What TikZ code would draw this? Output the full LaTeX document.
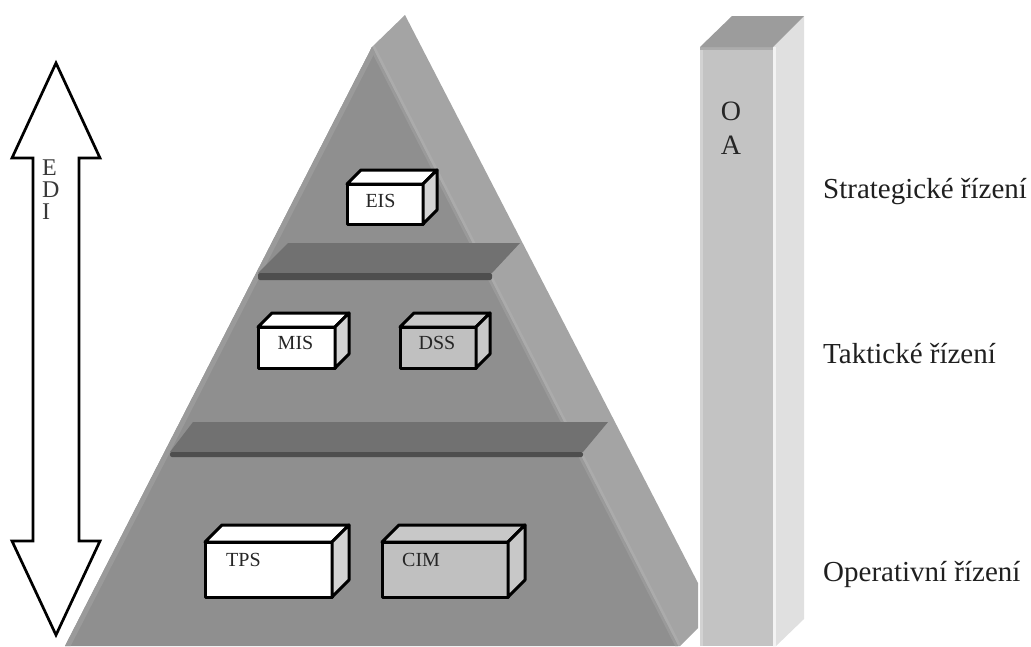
\documentclass[tikz,border=0pt]{standalone}
\usepackage{fontspec}
\setmainfont{Liberation Serif}

\definecolor{pyrfront}{HTML}{8F8F8F}
\definecolor{pyrside}{HTML}{A4A4A4}
\definecolor{pyredge}{HTML}{9A9A9A}
\definecolor{sidehi}{HTML}{ABABAB}
\definecolor{slabtop}{HTML}{717171}
\definecolor{slabfront}{HTML}{4E4E4E}
\definecolor{barfront}{HTML}{C3C3C3}
\definecolor{barside}{HTML}{E0E0E0}
\definecolor{bartop}{HTML}{9C9C9C}
\definecolor{barhi}{HTML}{D2D2D2}
\definecolor{barrim}{HTML}{ACACAC}
\definecolor{boxgrey}{HTML}{C0C0C0}
\definecolor{boxgreytop}{HTML}{C8C8C8}
\definecolor{boxside}{HTML}{D3D3D3}

% cuboid: name, centre x, centre y, width, height, depth, front, top, side fill
\newcommand{\cuboid}[9]{%
  \node[boxface, fill=#7, minimum width=#4pt, minimum height=#5pt] (#1) at (#2,#3) {};
  \filldraw[boxline, fill=#8] (#1.north west) -- ++(#6,-#6)
    -- ([shift={(#6,-#6)}]#1.north east) -- (#1.north east) -- cycle;
  \filldraw[boxline, fill=#9] (#1.north east) -- ++(#6,-#6)
    -- ([shift={(#6,-#6)}]#1.south east) -- (#1.south east) -- cycle;
}

\begin{document}
\begin{tikzpicture}[x=1pt, y=-1pt,
  boxface/.style={draw=black, line width=3pt, line join=round, inner sep=0pt, outer sep=0pt},
  boxline/.style={draw=black, line width=3pt, line join=round},
  boxtext/.style={font=\fontsize{20}{22}\selectfont, text=black!85, inner sep=0pt},
  level/.style={font=\fontsize{29}{34}\selectfont, text=black!88, anchor=base west, inner sep=0pt},
  barletter/.style={font=\fontsize{28}{32}\selectfont, text=black!85, anchor=base, inner sep=0pt},
  arrowletter/.style={font=\fontsize{24}{26}\selectfont, text=black!78, anchor=base west, inner sep=0pt},
  bigarrow/.style={draw=black, fill=white, line width=2.7pt, line join=miter}]

\useasboundingbox (0,0) rectangle (1031,646);

% pyramid corners
\coordinate (apexF) at (372,47);
\coordinate (apexB) at (405,15);
\coordinate (baseL) at (65,646);
\coordinate (baseR) at (678,646);
\coordinate (backR) at (698,583);
\coordinate (backC) at (698,628);
\coordinate (backD) at (680,646);

% side face
\fill[pyrside] (apexF) -- (apexB) -- (backR) -- (backC) -- (backD) -- (baseR) -- cycle;
\begin{scope}
  \clip (apexF) -- (apexB) -- (backR) -- (backC) -- (backD) -- (baseR) -- cycle;
  \draw[sidehi, line width=6pt] (apexF) -- (baseR);
\end{scope}

% front face with lighter bevelled edges
\fill[pyrfront] (apexF) -- (baseL) -- (baseR) -- cycle;
\begin{scope}
  \clip (apexF) -- (baseL) -- (baseR) -- cycle;
  \draw[pyredge, line width=10pt] (apexF) -- (baseL);
  \draw[pyredge, line width=5pt] (apexF) -- (baseR);
\end{scope}

% shelves between the levels
\fill[slabtop] (258,273) -- (492,273) -- (520,243) -- (288,243) -- cycle;
\fill[slabfront, rounded corners=2pt] (258,273) rectangle (492,280);
\fill[slabtop] (170,452) -- (583,452) -- (608,422) -- (193,422) -- cycle;
\fill[slabfront, rounded corners=2pt] (170,452) rectangle (583,457);

% information systems
\cuboid{eis}{385}{204}{76}{40}{14}{white}{white}{boxside}
\cuboid{mis}{296.5}{347.5}{77}{41}{14}{white}{white}{boxside}
\cuboid{dss}{438}{347.5}{76}{41}{14}{boxgrey}{boxgreytop}{boxgreytop}
\cuboid{tps}{268.5}{569.5}{127}{55}{17}{white}{white}{boxside}
\cuboid{cim}{445}{569.5}{126}{55}{17}{boxgrey}{boxgreytop}{boxgreytop}

\node[boxtext, anchor=base] (eisT) at (380.5,207) {EIS};
\node[boxtext, anchor=base] (misT) at (295.5,349) {MIS};
\node[boxtext, anchor=base] (dssT) at (437,349) {DSS};
\node[boxtext, anchor=base west] (tpsT) at (226,566) {TPS};
\node[boxtext, anchor=base west] (cimT) at (402,566) {CIM};

% office automation column
\fill[barfront] (700,47) rectangle (773,646);
\fill[barhi] (700,47) rectangle (703,646);
\fill[barrim] (700,47) rectangle (773,50);
\fill[barside] (773,47) -- (804,16) -- (804,619) -- (776,646) -- (773,646) -- cycle;
\fill[white!60!barside] (773,47) -- (776,47) -- (776,646) -- (773,646) -- cycle;
\fill[bartop] (700,47) -- (773,47) -- (804,16) -- (732,16) -- cycle;
\node[barletter] (oaO) at (731,120) {O};
\node[barletter] (oaA) at (731,154) {A};

% EDI double arrow
\draw[bigarrow] (56,63) -- (100,158) -- (79,158) -- (79,541) -- (100,541)
  -- (56,635) -- (12,541) -- (33,541) -- (33,158) -- (12,158) -- cycle;
\node[arrowletter] (ediE) at (42,175) {E};
\node[arrowletter] (ediD) at (42,197) {D};
\node[arrowletter] (ediI) at (42,219) {I};

% management levels
\node[level] (lvlS) at (823,198) {Strategické řízení};
\node[level] (lvlT) at (823,363) {Taktické řízení};
\node[level] (lvlO) at (823,581) {Operativní řízení};

\end{tikzpicture}
\end{document}
